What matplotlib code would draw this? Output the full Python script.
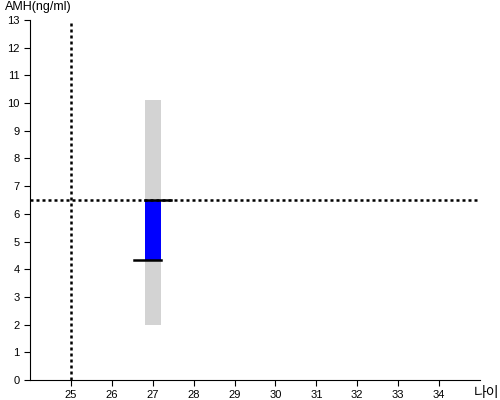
import matplotlib
matplotlib.use('Agg')
import matplotlib.pyplot as plt

plt.rcParams['font.family'] = ['Liberation Sans', 'Noto Sans CJK KR', 'DejaVu Sans']

ages = [27]
range_low = [2.0]
range_high = [10.1]
amh_low = [4.33]
amh_high = [6.5]
ref_age = 25
ref_amh = 6.5
xticks = list(range(25, 35))
yticks = list(range(0, 14))

fig = plt.figure(figsize=(5, 4), dpi=100)
ax = fig.add_axes([0.06, 0.05, 0.90, 0.90])

# grey range bar
ax.bar(ages, [h - l for h, l in zip(range_high, range_low)], bottom=range_low,
       width=0.4, color='#d3d3d3', zorder=1)
# blue value bar
ax.bar(ages, [h - l for h, l in zip(amh_high, amh_low)], bottom=amh_low,
       width=0.4, color='#0000ff', zorder=2)

ax.axhline(ref_amh, color='black', linestyle=(0, (1.2, 1.2)), linewidth=1.8, zorder=3)
ax.axvline(ref_age, color='black', linestyle=(0, (1.2, 1.2)), linewidth=1.8, zorder=3)

for a, lo, hi in zip(ages, amh_low, amh_high):
    ax.plot([a - 0.45, a + 0.2], [lo, lo], color='black', linewidth=1.8, zorder=4)
    ax.plot([a - 0.2, a + 0.45], [hi, hi], color='black', linewidth=1.8, zorder=4)

ax.set_xlim(24, 35)
ax.set_ylim(0, 13)
ax.set_xticks(xticks)
ax.set_yticks(yticks)
ax.spines['top'].set_visible(False)
ax.spines['right'].set_visible(False)
ax.tick_params(labelsize=8, length=4, direction='out')

fig.text(0.01, 0.998, 'AMH(ng/ml)', fontsize=9, ha='left', va='top')
fig.text(0.948, 0.018, '나이', fontsize=10, ha='left', va='center')

fig.savefig('out.png', dpi=100)
